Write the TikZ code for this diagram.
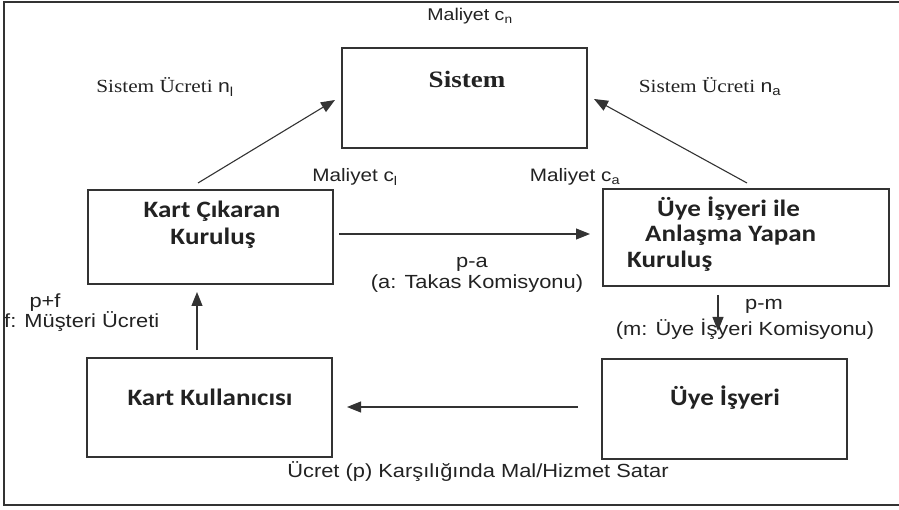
\documentclass[tikz,border=0pt]{standalone}
\usepackage{fontspec}
\setmainfont{Liberation Serif}[FakeStretch=1.15]
\newfontfamily\arialf{Liberation Sans}[FakeStretch=1.15]
\newfontfamily\calf{Carlito}[FakeStretch=1.15]
\usetikzlibrary{arrows.meta}
\definecolor{ink}{HTML}{222222}
\definecolor{linec}{HTML}{333333}
\tikzset{
  box/.style={draw=linec, line width=1.3pt, rectangle, inner sep=0pt},
  arr/.style={draw=linec, line width=1.1pt, -{Triangle[length=14pt,width=11pt]}},
  sanslab/.style={font=\arialf\fontsize{19}{21}\selectfont, text=ink, inner sep=0pt},
  seriflab/.style={font=\fontsize{18.5}{20}\selectfont, text=ink, inner sep=0pt},
  boxtxt/.style={font=\calf\bfseries\fontsize{23.5}{25}\selectfont, text=ink, inner sep=0pt},
}
\begin{document}
\begin{tikzpicture}[x=1pt,y=-1pt]
\useasboundingbox (0,0) rectangle (899,510);
\begin{scope}
\clip (0,0) rectangle (899,510);
\draw[draw=linec, line width=1.3pt] (4,2) rectangle (920,505);
\end{scope}
% boxes
\node[box, minimum width=245pt, minimum height=100pt] (sys) at (464.5,98) {};
\node[box, minimum width=245pt, minimum height=94pt] (kc) at (210.5,237) {};
\node[box, minimum width=286pt, minimum height=97pt] (uy) at (746,237.5) {};
\node[box, minimum width=245pt, minimum height=99pt] (kk) at (209.5,407.5) {};
\node[box, minimum width=245pt, minimum height=100pt] (ui) at (724.5,409) {};
% box texts
\node[font=\bfseries\fontsize{23.5}{25}\selectfont, text=ink, inner sep=0pt, anchor=base] (tsys) at (467,88) {Sistem};
\node[boxtxt, anchor=base] (tkc1) at (212,218) {Kart Çıkaran};
\node[boxtxt, anchor=base] (tkc2) at (213,245) {Kuruluş};
\node[boxtxt, anchor=base west] (tuy1) at (657,217) {Üye İşyeri ile};
\node[boxtxt, anchor=base west] (tuy2) at (645,242) {Anlaşma Yapan};
\node[boxtxt, anchor=base west] (tuy3) at (627,268) {Kuruluş};
\node[boxtxt, anchor=base] (tkk) at (210,405) {Kart Kullanıcısı};
\node[boxtxt, anchor=base] (tui) at (725,405) {Üye İşyeri};
% labels
\node[sanslab, font=\arialf\fontsize{17}{19}\selectfont, anchor=base] (lcn) at (470,21) {Maliyet c\textsubscript{n}};
\node[seriflab, anchor=base] (lnl) at (165,93) {Sistem Ücreti {\arialf n}\textsubscript{\arialf l}};
\node[seriflab, anchor=base] (lna) at (710,93) {Sistem Ücreti {\arialf n}\textsubscript{\arialf a}};
\node[sanslab, font=\arialf\fontsize{18}{20}\selectfont, anchor=base] (lcl) at (355,182) {Maliyet c\textsubscript{l}};
\node[sanslab, font=\arialf\fontsize{18}{20}\selectfont, anchor=base] (lca) at (575,182) {Maliyet c\textsubscript{a}};
\node[sanslab, anchor=base] (lpa) at (472,268) {p-a};
\node[sanslab, anchor=base] (lta) at (477,289) {(a: Takas Komisyonu)};
\node[sanslab, anchor=base] (lpf) at (45,308) {p+f};
\node[sanslab, anchor=base west] (lmu) at (4,328) {f: Müşteri Ücreti};
\node[sanslab, anchor=base] (lpm) at (764,310) {p-m};
\node[sanslab, anchor=base] (lum) at (745,335) {(m: Üye İşyeri Komisyonu)};
\node[sanslab, anchor=base] (lsat) at (478,477) {Ücret (p) Karşılığında Mal/Hizmet Satar};
% arrow end coordinates
\coordinate (a1s) at (198,183); \coordinate (a1e) at (335,100);
\coordinate (a2s) at (747,183); \coordinate (a2e) at (594,99);
\coordinate (a3s) at (339,234); \coordinate (a3e) at (590,234);
\coordinate (a4s) at (718,295); \coordinate (a4e) at (718,331);
\coordinate (a5s) at (578,407); \coordinate (a5e) at (347,407);
\coordinate (a6s) at (197,350); \coordinate (a6e) at (197,292);
\draw[arr] (a1s) -- (a1e);
\draw[arr] (a2s) -- (a2e);
\draw[arr] (a3s) -- (a3e);
\draw[arr] (a4s) -- (a4e);
\draw[arr] (a5s) -- (a5e);
\draw[arr] (a6s) -- (a6e);
\end{tikzpicture}
\end{document}
